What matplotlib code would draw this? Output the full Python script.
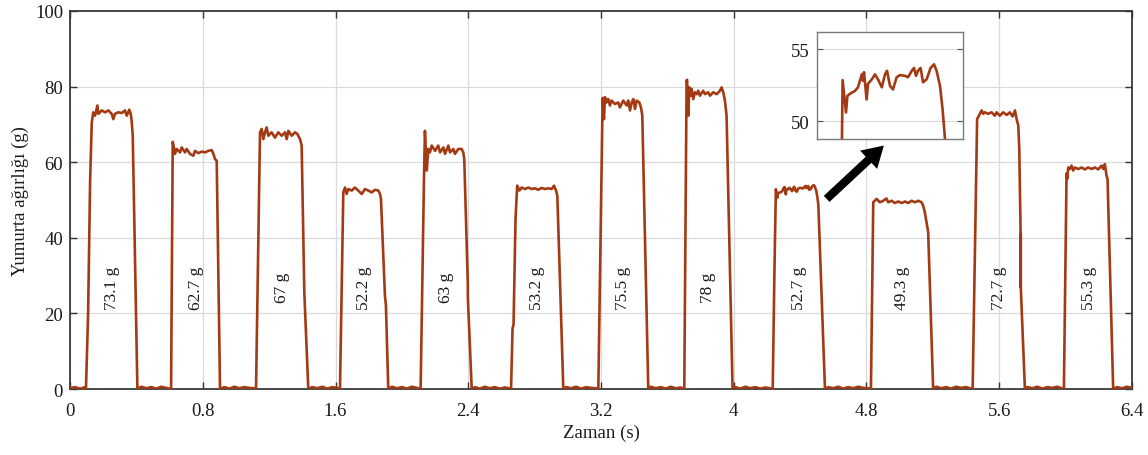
import numpy as np
import matplotlib
matplotlib.use("Agg")
import matplotlib.pyplot as plt

#################################################################
############################ DATA ###############################
#################################################################

# samples of the load cell signal, one list pair per egg (time s, weight g)
p1_t = [0.096, 0.109, 0.121, 0.131, 0.140, 0.151, 0.165, 0.171, 0.191, 0.211, 0.231, 0.251, 0.261, 0.271, 0.291, 0.312, 0.331, 0.342, 0.357, 0.366, 0.372, 0.378, 0.406]
p1_y = [0, 20, 55, 70.5, 73.2, 72.3, 75, 72.8, 73.7, 73.2, 73.7, 72.8, 71.4, 72.8, 73.2, 73, 73.7, 72.3, 73.9, 72.8, 70.6, 67, 0]

p2_t = [0.609, 0.619, 0.633, 0.643, 0.663, 0.673, 0.693, 0.703, 0.723, 0.743, 0.753, 0.773, 0.794, 0.814, 0.833, 0.854, 0.864, 0.874, 0.884, 0.904]
p2_y = [0, 65.4, 62.2, 63.5, 62.6, 63.9, 62.6, 63.5, 62.2, 61.7, 63, 62.4, 62.8, 62.6, 63, 63.2, 62.2, 60.8, 60.4, 0]

p3_t = [1.121, 1.145, 1.155, 1.165, 1.175, 1.185, 1.195, 1.215, 1.235, 1.255, 1.276, 1.296, 1.306, 1.316, 1.336, 1.356, 1.370, 1.386, 1.396, 1.407, 1.410, 1.412, 1.436]
p3_y = [0, 67.9, 68.8, 66.1, 67.9, 69.2, 67, 67.9, 66.5, 67.9, 67, 67.9, 66.1, 68.3, 67, 67.9, 67.5, 66.1, 64.4, 38, 30, 25.6, 0]

p4_t = [1.627, 1.647, 1.657, 1.667, 1.677, 1.698, 1.717, 1.737, 1.758, 1.778, 1.798, 1.818, 1.838, 1.858, 1.868, 1.874, 1.898, 1.904, 1.918]
p4_y = [0, 52, 53.3, 51.6, 52.9, 52.5, 53.3, 52.5, 51.6, 52.9, 52.5, 52, 52.7, 52.5, 51.6, 50.3, 24.7, 22, 0]

p5_t = [2.113, 2.133, 2.139, 2.150, 2.159, 2.169, 2.180, 2.200, 2.219, 2.230, 2.250, 2.260, 2.280, 2.290, 2.310, 2.320, 2.340, 2.360, 2.370, 2.376, 2.397, 2.398, 2.421]
p5_y = [0, 55, 68.3, 57.8, 63.5, 62.6, 64.4, 63, 64.4, 62.6, 63.9, 62.2, 64.4, 62.6, 63.5, 62.2, 63.5, 63.5, 62.6, 60.8, 28.6, 23.8, 0]

p6_t = [2.658, 2.667, 2.673, 2.685, 2.695, 2.708, 2.722, 2.742, 2.762, 2.782, 2.802, 2.822, 2.842, 2.862, 2.882, 2.903, 2.917, 2.929, 2.937, 2.973]
p6_y = [0, 16, 17, 45, 53.8, 52.5, 53.3, 52.9, 53.3, 52.9, 53.1, 52.7, 53.2, 52.9, 53.1, 52.9, 53.8, 52.5, 51.1, 0]

p7_t = [3.184, 3.210, 3.218, 3.224, 3.234, 3.244, 3.254, 3.264, 3.284, 3.304, 3.314, 3.334, 3.355, 3.364, 3.375, 3.385, 3.395, 3.405, 3.415, 3.431, 3.441, 3.449, 3.485]
p7_y = [0, 77, 71.4, 77.2, 75.8, 76.7, 75, 76.3, 75.4, 75.8, 74.5, 76.3, 75, 76.3, 73.7, 75.8, 76.7, 74.1, 76.3, 75.8, 74.5, 72.3, 0]

p8_t = [3.702, 3.716, 3.719, 3.726, 3.732, 3.740, 3.746, 3.756, 3.766, 3.777, 3.786, 3.796, 3.816, 3.827, 3.846, 3.857, 3.877, 3.897, 3.917, 3.927, 3.937, 3.947, 3.957, 3.993]
p8_y = [0, 81.6, 81.8, 72.3, 79.8, 77.6, 79.4, 76.7, 78.5, 78, 78.9, 77.6, 78.9, 78, 78.5, 77.6, 78.5, 78, 78.9, 79.8, 78.5, 76.3, 72.3, 0]

p9_t = [4.235, 4.245, 4.254, 4.2625, 4.266, 4.2725, 4.285, 4.2925, 4.302, 4.305, 4.3075, 4.314, 4.3175, 4.327, 4.335, 4.3425, 4.352, 4.36, 4.365, 4.3725,
        4.38, 4.389, 4.3975, 4.41, 4.4175, 4.427, 4.4325, 4.4375, 4.4425, 4.449, 4.455, 4.464, 4.474, 4.4825, 4.489, 4.4975, 4.504, 4.51, 4.55]
p9_y = [0, 30, 52.85, 50.6, 51.75, 51.9, 52.1, 52.35, 53.25, 52.8, 53.4, 51.5, 52.6, 52.9, 53.25, 52.9, 52.35, 53.25, 53.5, 52.45,
        52.2, 53.05, 53.2, 53.15, 53.05, 53.5, 53.7, 53.15, 53.5, 53.7, 52.7, 52.9, 53.7, 53.95, 53.5, 52.45, 50.8, 48.75, 0]

p10_t = [4.827, 4.841, 4.861, 4.881, 4.901, 4.921, 4.931, 4.952, 4.971, 4.991, 5.012, 5.032, 5.052, 5.072, 5.092, 5.112, 5.132, 5.142, 5.152, 5.172, 5.202]
p10_y = [0, 49.4, 50.3, 49.4, 49.8, 50.4, 49.4, 49.8, 49.2, 49.6, 49.2, 49.6, 49.2, 49.8, 49.4, 49.8, 49.4, 48.5, 46.7, 41.5, 0]

p11_t = [5.440, 5.467, 5.484, 5.494, 5.504, 5.514, 5.534, 5.554, 5.574, 5.584, 5.604, 5.624, 5.645, 5.664, 5.681, 5.695, 5.705, 5.715, 5.721, 5.729, 5.7295, 5.730, 5.7305, 5.755]
p11_y = [0, 71.4, 72.8, 73.7, 72.8, 73.2, 72.8, 73.2, 72.3, 73.2, 72.3, 73.2, 72.5, 73.2, 72.1, 73.7, 71.4, 69.7, 63.5, 41.5, 27, 41, 26.5, 0]

p12_t = [5.990, 6.006, 6.010, 6.016, 6.026, 6.036, 6.046, 6.056, 6.076, 6.097, 6.116, 6.136, 6.157, 6.177, 6.197, 6.217, 6.227, 6.237, 6.247, 6.253, 6.287]
p12_y = [0, 57, 55.6, 58.6, 58.2, 59.1, 57.8, 58.6, 58.2, 58.6, 58.1, 58.6, 58.2, 58.6, 58.1, 59.1, 58.2, 59.5, 56.4, 55.6, 0]

# empty scale between eggs
base_t = [0.0, 0.03, 0.06, 0.085,
          0.43, 0.46, 0.49, 0.52, 0.55, 0.58,
          0.93, 0.96, 0.99, 1.02, 1.05, 1.08, 1.11,
          1.46, 1.49, 1.52, 1.55, 1.58, 1.61,
          1.94, 1.97, 2.0, 2.03, 2.06, 2.09,
          2.44, 2.47, 2.5, 2.53, 2.56, 2.59, 2.62, 2.645,
          2.99, 3.02, 3.05, 3.08, 3.11, 3.14, 3.17,
          3.5, 3.53, 3.56, 3.59, 3.62, 3.65, 3.68,
          4.01, 4.04, 4.07, 4.1, 4.13, 4.16, 4.19, 4.22,
          4.57, 4.6, 4.63, 4.66, 4.69, 4.72, 4.75, 4.78, 4.81,
          5.22, 5.25, 5.28, 5.31, 5.34, 5.37, 5.4, 5.425,
          5.77, 5.8, 5.83, 5.86, 5.89, 5.92, 5.95, 5.975,
          6.31, 6.34, 6.37, 6.4]
base_y = [0.2, 0.5, 0.1, 0.4,
          0.6, 0.2, 0.5, 0.1, 0.6, 0.3,
          0.5, 0.1, 0.6, 0.2, 0.5, 0.3, 0.2,
          0.5, 0.2, 0.6, 0.1, 0.5, 0.3,
          0.6, 0.2, 0.5, 0.1, 0.6, 0.3,
          0.5, 0.1, 0.6, 0.2, 0.5, 0.1, 0.4, 0.2,
          0.5, 0.2, 0.6, 0.1, 0.5, 0.3, 0.2,
          0.6, 0.2, 0.5, 0.1, 0.6, 0.2, 0.4,
          0.5, 0.1, 0.6, 0.2, 0.5, 0.1, 0.4, 0.2,
          0.5, 0.2, 0.6, 0.1, 0.5, 0.2, 0.6, 0.3, 0.2,
          0.6, 0.2, 0.5, 0.1, 0.6, 0.3, 0.5, 0.2,
          0.5, 0.2, 0.6, 0.1, 0.5, 0.3, 0.6, 0.2,
          0.5, 0.2, 0.6, 0.3]

egg_labels = ["73.1 g", "62.7 g", "67 g", "52.2 g", "63 g", "53.2 g",
              "75.5 g", "78 g", "52.7 g", "49.3 g", "72.7 g", "55.3 g"]

x_ticks = [0, 0.8, 1.6, 2.4, 3.2, 4, 4.8, 5.6, 6.4]
y_ticks = [0, 20, 40, 60, 80, 100]
inset_ticks = [50, 55]

#################################################################
############################ PLOT ###############################
#################################################################

pulses_t = [p1_t, p2_t, p3_t, p4_t, p5_t, p6_t, p7_t, p8_t, p9_t, p10_t, p11_t, p12_t]
pulses_y = [p1_y, p2_y, p3_y, p4_y, p5_y, p6_y, p7_y, p8_y, p9_y, p10_y, p11_y, p12_y]

t_all = np.concatenate([base_t] + pulses_t)
y_all = np.concatenate([base_y] + pulses_y)
order = np.argsort(t_all, kind="stable")
t_all = t_all[order]
y_all = y_all[order]

plt.rcParams["font.family"] = ["Liberation Serif", "DejaVu Serif"]
line_col = "#a33a14"
text_col = "#1a1a1a"

fig = plt.figure(figsize=(11.48, 4.56), dpi=100)
ax = fig.add_axes([0.061, 0.1447, 0.925, 0.829])

ax.plot(t_all, y_all, color=line_col, lw=1.9, zorder=3)
ax.set_xlim(0, 6.4)
ax.set_ylim(0, 100)
ax.set_xticks(x_ticks)
ax.set_xticklabels(["%g" % v for v in x_ticks])
ax.set_yticks(y_ticks)
ax.grid(True, color="#dadada", lw=0.9)
ax.set_axisbelow(True)
ax.tick_params(direction="in", top=True, right=True, length=5, width=1,
               labelsize=13.5, colors="#333333", labelcolor=text_col)
ax.tick_params(axis="x", pad=9)
ax.tick_params(axis="y", pad=5)
for s in ax.spines.values():
    s.set_color("#3a3a3a")
    s.set_linewidth(1.3)

ax.set_xlabel("Zaman (s)", fontsize=13.5, color=text_col, labelpad=4)
ax.set_ylabel("Yumurta ağırlığı (g)", fontsize=13.5, color=text_col, labelpad=4)

for i in range(len(egg_labels)):
    mid = (pulses_t[i][0] + pulses_t[i][-1]) / 2
    ax.text(mid, 27, egg_labels[i], rotation=90, ha="center", va="center",
            fontsize=12.5, color=text_col, zorder=4)

ax.annotate("", xy=(4.905, 64.4), xytext=(4.56, 50.3),
            arrowprops=dict(arrowstyle="simple,head_length=1.5,head_width=1.8,tail_width=0.6",
                            color="black", mutation_scale=10, shrinkA=0, shrinkB=0, lw=0),
            zorder=5)

# zoom on the 52.7 g egg
axins = fig.add_axes([817 / 1148, 1 - 140 / 456, 146 / 1148, 107 / 456])
axins.plot(t_all, y_all, color=line_col, lw=1.9)
axins.set_xlim(4.19, 4.555)
axins.set_ylim(48.75, 56.2)
axins.set_xticks([])
axins.set_yticks(inset_ticks)
axins.grid(True, axis="y", color="#dadada", lw=0.9)
axins.set_axisbelow(True)
axins.tick_params(direction="in", right=True, length=4, labelsize=13.5,
                  colors="#555555", labelcolor=text_col, pad=5)
for s in axins.spines.values():
    s.set_color("#7a7a7a")
    s.set_linewidth(1.0)

plt.savefig("out.png", dpi=100)
plt.close(fig)
